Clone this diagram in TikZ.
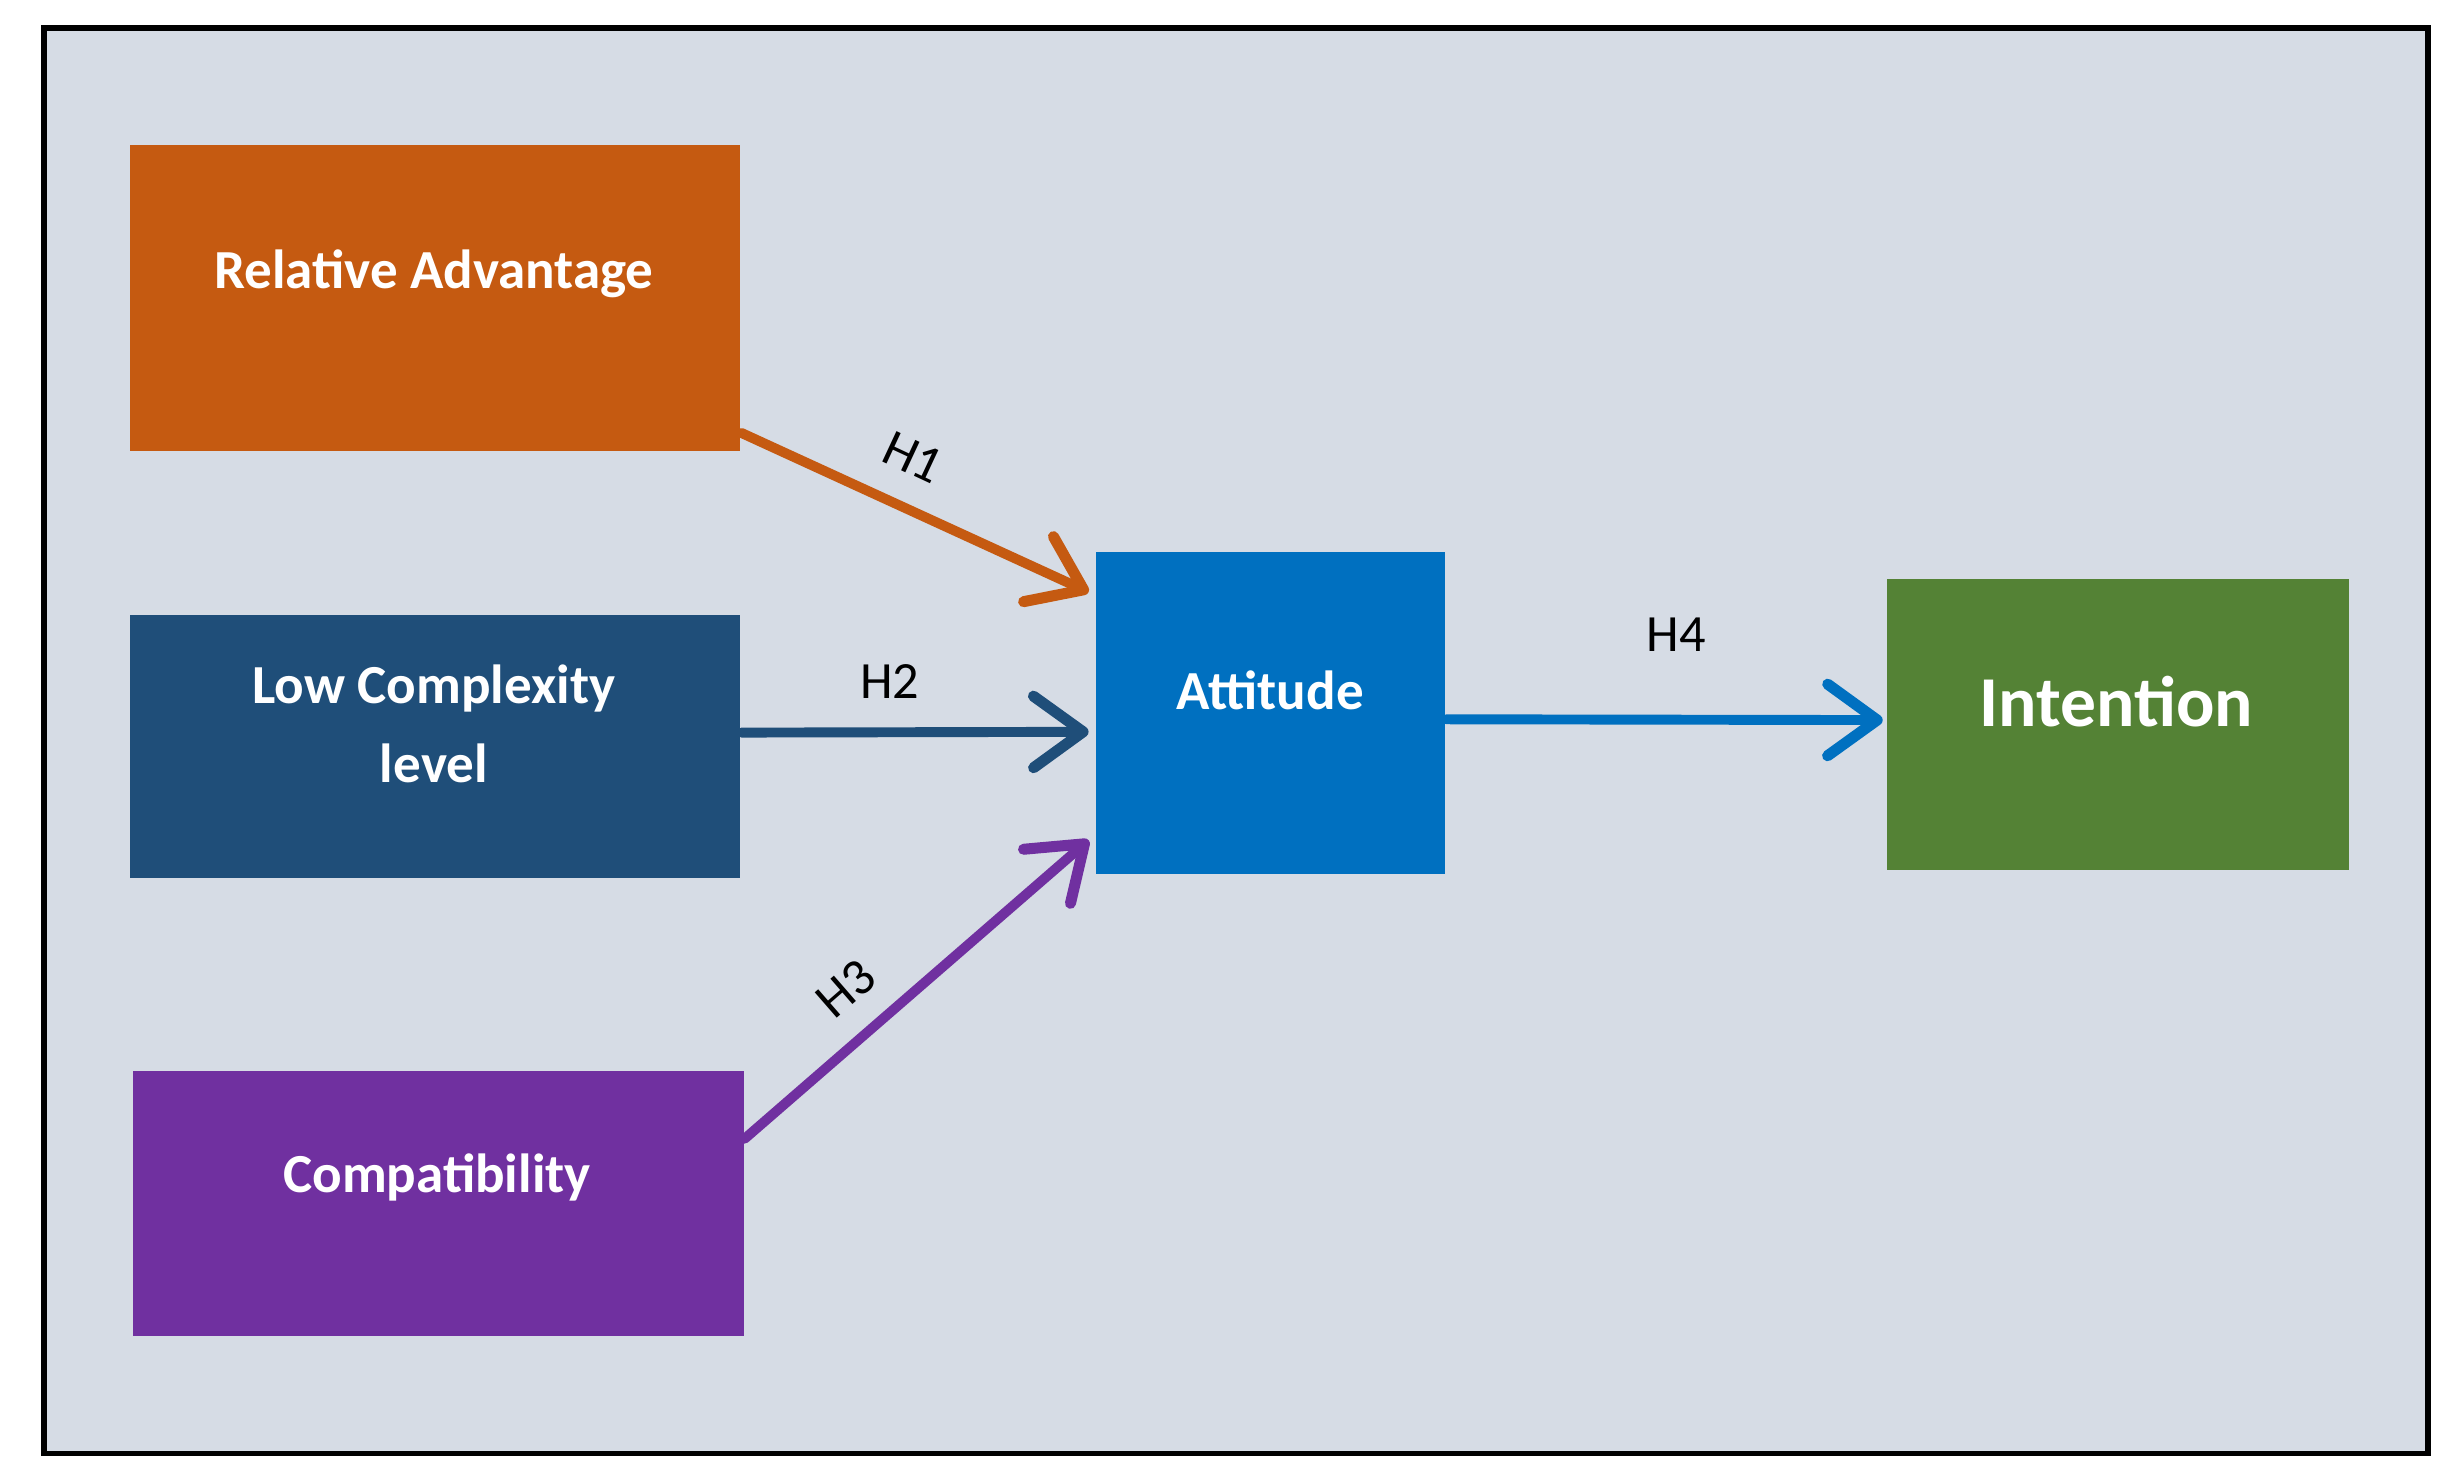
\documentclass[tikz,border=0pt]{standalone}
\usepackage{fontspec}
\setmainfont{Carlito}
\usetikzlibrary{arrows.meta,calc}
\definecolor{bg}{HTML}{D6DCE5}
\definecolor{cra}{HTML}{C55A11}
\definecolor{clc}{HTML}{1F4E79}
\definecolor{ccp}{HTML}{7030A0}
\definecolor{cat}{HTML}{0070C0}
\definecolor{cin}{HTML}{548235}
\begin{document}
\begin{tikzpicture}[x=0.01cm,y=-0.01cm,
  box/.style={draw=none,inner sep=0,anchor=north west},
  txt/.style={font=\bfseries\fontsize{10}{14.4}\selectfont,text=white,align=center},
  arr/.style={line width=1.8pt,line cap=round,-{Straight Barb[length=9pt,width=13pt,line width=2pt,round]}},
  hl/.style={font=\fontsize{9.5}{11}\selectfont,text=black}]
\useasboundingbox (0,0) rectangle (1568,944);
\draw[fill=bg,line width=1pt] (28,18) rectangle (1550,928);
\node[box,fill=cra,minimum width=390*0.01cm,minimum height=195*0.01cm] (ra) at (82,92) {};
\node[txt] (rat) at (277,175) {Relative Advantage};
\node[box,fill=clc,minimum width=390*0.01cm,minimum height=168*0.01cm] (lc) at (82,392) {};
\node[txt] (lct) at (277,462) {Low Complexity\\level};
\node[box,fill=ccp,minimum width=390*0.01cm,minimum height=169*0.01cm] (cp) at (84,683) {};
\node[txt] (cpt) at (279,752) {Compatibility};
\node[box,fill=cat,minimum width=223*0.01cm,minimum height=205*0.01cm] (at) at (699,352) {};
\node[txt] (att) at (811,441) {Attitude};
\node[box,fill=cin,minimum width=295*0.01cm,minimum height=186*0.01cm] (in) at (1204,369) {};
\node[txt,font=\bfseries\fontsize{13}{15}\selectfont] (int) at (1351,448) {Intention};
\draw[arr,cra] ($(ra.south east)+(0,-12)$) -- ($(at.north west)+(-4,26)$);
\draw[arr,clc] ($(lc.east)+(0,-9)$) -- ($(at.west)+(-4,12)$);
\draw[arr,ccp] ($(cp.north east)+(0,44)$) -- ($(at.south west)+(-4,-22)$);
\draw[arr,cat] ($(at.east)+(0,4)$) -- ($(in.west)+(-2,-3)$);
\node[hl,rotate=-25] (h1) at (583,292) {H1};
\node[hl] (h2) at (568,435) {H2};
\node[hl,rotate=41] (h3) at (540,631) {H3};
\node[hl] (h4) at (1070,405) {H4};
\end{tikzpicture}
\end{document}
